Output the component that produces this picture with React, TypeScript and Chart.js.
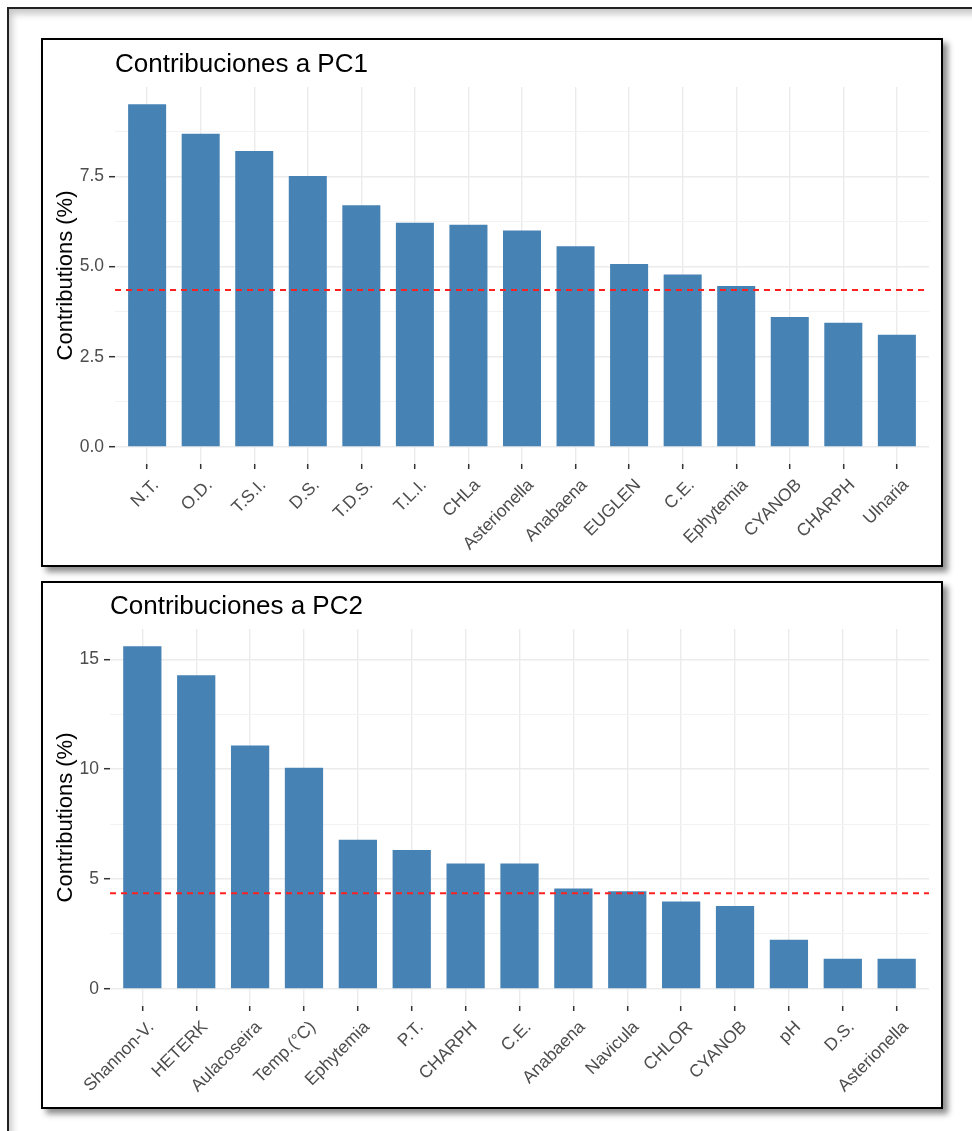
import React, { useEffect, useRef } from "react";
import { Chart, registerables } from "chart.js";

Chart.register(...registerables);

// ---- PC1 contributions ----
const pc1Title = "Contribuciones a PC1";
const pc1Labels = ["N.T.", "O.D.", "T.S.I.", "D.S.", "T.D.S.", "T.L.I.", "CHLa", "Asterionella", "Anabaena", "EUGLEN", "C.E.", "Ephytemia", "CYANOB", "CHARPH", "Ulnaria"];
const pc1Values = [9.5, 8.68, 8.2, 7.51, 6.7, 6.21, 6.16, 6.0, 5.56, 5.07, 4.78, 4.46, 3.6, 3.44, 3.11];
const pc1TickValues = [0, 2.5, 5, 7.5];
const pc1TickLabels = ["0.0", "2.5", "5.0", "7.5"];
const pc1MinorTicks = [1.25, 3.75, 6.25, 8.75];

// ---- PC2 contributions ----
const pc2Title = "Contribuciones a PC2";
const pc2Labels = ["Shannon-V.", "HETERK", "Aulacoseira", "Temp.(°C)", "Ephytemia", "P.T.", "CHARPH", "C.E.", "Anabaena", "Navicula", "CHLOR", "CYANOB", "pH", "D.S.", "Asterionella"];
const pc2Values = [15.6, 14.27, 11.08, 10.06, 6.79, 6.32, 5.71, 5.71, 4.57, 4.44, 3.98, 3.77, 2.23, 1.37, 1.37];
const pc2TickValues = [0, 5, 10, 15];
const pc2TickLabels = ["0", "5", "10", "15"];
const pc2MinorTicks = [2.5, 7.5, 12.5];

// expected average contribution (dashed reference line)
const expectedContribution = 4.35;

const yTitle = "Contributions (%)";
const FONT = '"Liberation Sans", Arial, Helvetica, sans-serif';

Chart.defaults.font.family = FONT;

const panelTitlePlugin = {
  id: "panelTitle",
  afterDraw(chart: any, _args: any, opts: any) {
    const { ctx, chartArea } = chart;
    ctx.save();
    ctx.font = `26px ${FONT}`;
    ctx.fillStyle = "#000000";
    ctx.textAlign = "left";
    ctx.textBaseline = "alphabetic";
    ctx.fillText(opts.text, chartArea.left, chartArea.top - 15);
    ctx.restore();
  },
};

type PanelProps = {
  title: string;
  labels: string[];
  values: number[];
  tickValues: number[];
  tickLabels: string[];
  minorTicks: number[];
  yAxisWidth: number;
  padTop: number;
  top: number;
  height: number;
};

function ContributionPanel(p: PanelProps) {
  const ref = useRef<HTMLCanvasElement>(null);

  useEffect(() => {
    const canvas = ref.current;
    if (!canvas) return;
    const n = p.labels.length;
    const maxV = Math.max(...p.values);
    const isMajor = (v: number) => p.tickValues.indexOf(v) >= 0;

    const chart = new Chart(canvas, {
      type: "bar",
      data: {
        datasets: [
          {
            type: "line",
            data: [
              { x: -0.6, y: expectedContribution },
              { x: n - 0.4, y: expectedContribution },
            ],
            borderColor: "#FF2020",
            borderWidth: 1.9,
            borderDash: [6, 5],
            pointRadius: 0,
            order: 0,
          } as any,
          {
            type: "bar",
            data: p.values.map((v, i) => ({ x: i, y: v })),
            backgroundColor: "#4682B4",
            borderWidth: 0,
            barPercentage: 0.71,
            categoryPercentage: 1,
            order: 1,
          } as any,
        ],
      },
      options: {
        animation: false,
        responsive: false,
        events: [],
        layout: { padding: { top: p.padTop, right: 12, left: 0, bottom: 0 } },
        plugins: {
          legend: { display: false },
          tooltip: { enabled: false },
          panelTitle: { text: p.title },
        } as any,
        scales: {
          x: {
            type: "linear",
            min: -0.6,
            max: n - 0.4,
            offset: false,
            border: { display: false },
            grid: {
              offset: false,
              color: "#EBEBEB",
              lineWidth: 1.4,
              drawTicks: true,
              tickLength: 5,
              tickWidth: 1.5,
              tickColor: "#333333",
            },
            ticks: {
              autoSkip: false,
              minRotation: 45,
              maxRotation: 45,
              padding: 6,
              labelOffset: 9,
              color: "#4D4D4D",
              font: { size: 17.5 },
              callback: (v: any) => p.labels[v] ?? "",
            },
            afterBuildTicks: (axis: any) => {
              axis.ticks = p.labels.map((_, i) => ({ value: i }));
            },
            afterFit: (scale: any) => {
              scale.height = 101;
            },
          },
          y: {
            type: "linear",
            min: -0.05 * maxV,
            max: 1.05 * maxV,
            border: { display: false },
            grid: {
              color: (c: any) => (c.tick && isMajor(c.tick.value) ? "#EBEBEB" : "#F2F2F2"),
              lineWidth: (c: any) => (c.tick && isMajor(c.tick.value) ? 1.4 : 1.1),
              drawTicks: true,
              tickLength: 6,
              tickWidth: 1.5,
              tickColor: (c: any) => (c.tick && isMajor(c.tick.value) ? "#333333" : "rgba(0,0,0,0)"),
            },
            ticks: {
              autoSkip: false,
              padding: 5,
              color: "#4D4D4D",
              font: { size: 17.5 },
              callback: (v: any) => {
                const k = p.tickValues.indexOf(v);
                return k >= 0 ? p.tickLabels[k] : "";
              },
            },
            afterBuildTicks: (axis: any) => {
              axis.ticks = [...p.tickValues, ...p.minorTicks]
                .sort((a, b) => a - b)
                .map((v) => ({ value: v }));
            },
            afterFit: (scale: any) => {
              scale.width = p.yAxisWidth;
            },
            title: {
              display: true,
              text: yTitle,
              color: "#000000",
              font: { size: 22 },
              padding: { top: 10, bottom: 0 },
            },
          },
        },
      } as any,
      plugins: [panelTitlePlugin as any],
    });

    return () => chart.destroy();
  }, []);

  return (
    <div
      style={{
        position: "absolute",
        left: 41,
        top: p.top,
        width: 902,
        height: p.height,
        boxSizing: "border-box",
        border: "2px solid #000",
        background: "#fff",
        boxShadow: "5px 5px 6px rgba(0,0,0,0.45)",
      }}
    >
      <canvas ref={ref} width={898} height={p.height - 4} style={{ display: "block" }} />
    </div>
  );
}

export default function App() {
  return (
    <div
      style={{
        position: "absolute",
        left: 0,
        top: 0,
        width: 972,
        height: 1131,
        background: "#fff",
        overflow: "hidden",
      }}
    >
      <div
        style={{
          position: "absolute",
          left: 7,
          top: 7,
          width: 1000,
          height: 1200,
          boxSizing: "border-box",
          border: "2px solid #222",
          boxShadow: "inset 3px 5px 7px rgba(0,0,0,0.22)",
        }}
      />
      <ContributionPanel
        title={pc1Title}
        labels={pc1Labels}
        values={pc1Values}
        tickValues={pc1TickValues}
        tickLabels={pc1TickLabels}
        minorTicks={pc1MinorTicks}
        yAxisWidth={72}
        padTop={47}
        top={38}
        height={529}
      />
      <ContributionPanel
        title={pc2Title}
        labels={pc2Labels}
        values={pc2Values}
        tickValues={pc2TickValues}
        tickLabels={pc2TickLabels}
        minorTicks={pc2MinorTicks}
        yAxisWidth={67}
        padTop={46}
        top={581}
        height={528}
      />
    </div>
  );
}
